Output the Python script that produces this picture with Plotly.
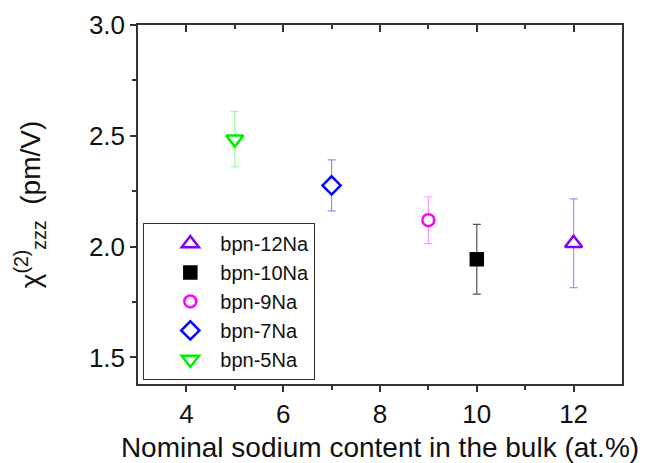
import plotly.graph_objects as go

names = ["bpn-12Na", "bpn-10Na", "bpn-9Na", "bpn-7Na", "bpn-5Na"]
x_vals = [12, 10, 9, 7, 5]
y_vals = [2.015, 1.943, 2.119, 2.276, 2.485]
y_err = [0.20, 0.157, 0.106, 0.115, 0.125]

x_ticks = [4, 6, 8, 10, 12]
x_minor = [5, 7, 9, 11]
y_ticks = [1.5, 2.0, 2.5, 3.0]
y_ticklabels = ["1.5", "2.0", "2.5", "3.0"]
y_minor = [1.75, 2.25, 2.75]

symbols = ["triangle-up", "square", "circle", "diamond", "triangle-down"]
line_colors = ["#8000ff", "#000000", "#ff00ff", "#0000ff", "#00ee00"]
fill_colors = ["white", "#000000", "white", "white", "white"]
err_colors = ["#c080ff", "#555555", "#ff99ff", "#8c8cff", "#99ff99"]
sizes = [15, 12, 12, 14, 15]

fig = go.Figure()
for i in range(len(names)):
    fig.add_trace(go.Scatter(
        x=[x_vals[i]], y=[y_vals[i]], name=names[i], mode="markers",
        marker=dict(symbol=symbols[i], size=sizes[i], color=fill_colors[i],
                    line=dict(color=line_colors[i], width=2.5)),
        error_y=dict(type="data", array=[y_err[i]], color=err_colors[i],
                     thickness=1.2, width=4),
    ))

axis_color = "#333333"
font_family = "Liberation Sans, Arial, sans-serif"

fig.update_layout(
    width=652, height=463,
    margin=dict(l=138, r=30, t=25, b=79),
    paper_bgcolor="white", plot_bgcolor="white",
    font=dict(family=font_family, color="#111111"),
    showlegend=True,
    legend=dict(x=0.011, y=0.4485, xanchor="left", yanchor="top",
                bgcolor="white", bordercolor=axis_color, borderwidth=1,
                font=dict(size=20, family=font_family), tracegroupgap=0,
                indentation=16, itemwidth=50),
    xaxis=dict(range=[3, 13], tickvals=x_ticks, showgrid=False, automargin=False,
               zeroline=False, showline=True, linecolor=axis_color, linewidth=1.5,
               ticks="outside", ticklen=6, tickwidth=1.5, tickcolor=axis_color,
               tickfont=dict(size=26),
               minor=dict(tickvals=x_minor, ticks="outside", ticklen=4,
                          tickwidth=1.5, tickcolor=axis_color),
               mirror=False,
               title=dict(text="Nominal sodium content in the bulk (at.%)",
                          font=dict(size=28), standoff=10)),
    xaxis2=dict(range=[3, 13], overlaying="x", side="top", matches="x",
                automargin=False,
                tickvals=x_ticks, showticklabels=False, showgrid=False,
                zeroline=False, showline=True, linecolor=axis_color, linewidth=1.5,
                ticks="inside", ticklen=7, tickwidth=1.5, tickcolor=axis_color,
                minor=dict(tickvals=x_minor, ticks="inside", ticklen=4,
                           tickwidth=1.5, tickcolor=axis_color)),
    yaxis=dict(range=[1.38, 3.0], tickvals=y_ticks, ticktext=y_ticklabels,
               showgrid=False, automargin=False,
               zeroline=False, showline=True, linecolor=axis_color, linewidth=1.5,
               mirror=True,
               ticks="outside", ticklen=6, tickwidth=1.5, tickcolor=axis_color,
               tickfont=dict(size=26),
               minor=dict(tickvals=y_minor, ticks="outside", ticklen=4,
                          tickwidth=1.5, tickcolor=axis_color),
               title=dict(text="χ<sup>(2)</sup><sub>zzz</sub>  (pm/V)",
                          font=dict(size=28), standoff=40)),
)
# dummy trace to render the top axis
fig.add_trace(go.Scatter(x=[3], y=[None], xaxis="x2", showlegend=False,
                         hoverinfo="skip", mode="markers"))

fig.write_html("out.html", config={"displayModeBar": False},
               post_script="document.body.style.margin='0';document.body.style.overflow='hidden';")
